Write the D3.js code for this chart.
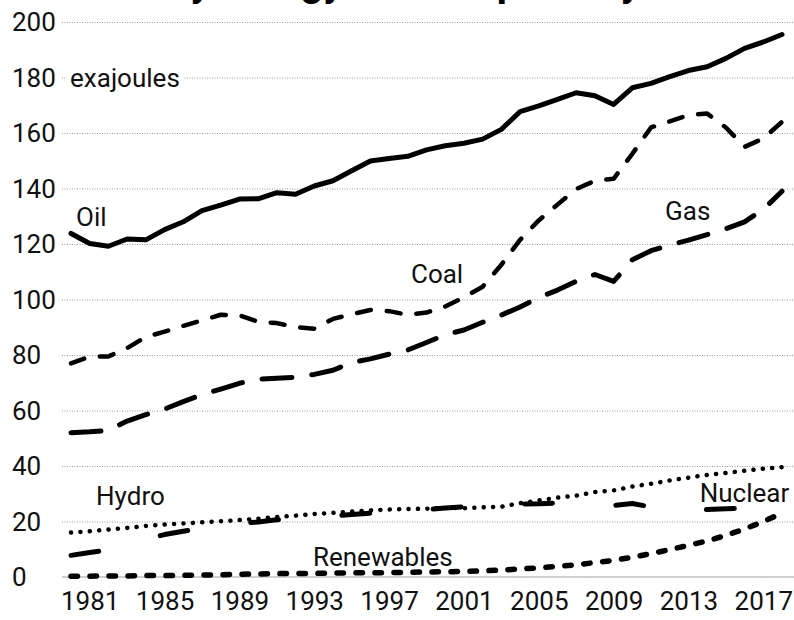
<!DOCTYPE html>
<html>
<head>
<meta charset="utf-8">
<script src="https://cdn.jsdelivr.net/npm/d3@7"></script>
<style>
  body { margin: 0; background: #fff; }
  svg { display: block; font-family: Roboto, sans-serif; }
</style>
</head>
<body>
<div id="chart"></div>
<script>
const WIDTH = 794;
const HEIGHT = 620;
const TITLE = 'Primary energy consumption by fuel';
const UNIT = 'exajoules';

const YEARS = [1980, 1981, 1982, 1983, 1984, 1985, 1986, 1987, 1988, 1989,
  1990, 1991, 1992, 1993, 1994, 1995, 1996, 1997, 1998, 1999,
  2000, 2001, 2002, 2003, 2004, 2005, 2006, 2007, 2008, 2009,
  2010, 2011, 2012, 2013, 2014, 2015, 2016, 2017, 2018];
const OIL = [123.8, 120.2, 119.2, 121.8, 121.5, 125.2, 128.0, 132.0, 134.0, 136.2,
  136.3, 138.5, 137.9, 140.9, 142.8, 146.4, 149.9, 150.8, 151.6, 153.9,
  155.4, 156.3, 157.8, 161.3, 167.7, 169.8, 172.1, 174.5, 173.4, 170.3,
  176.3, 177.9, 180.3, 182.5, 183.9, 186.9, 190.5, 192.8, 195.5];
const COAL = [77.0, 79.4, 79.5, 82.5, 86.5, 88.4, 90.5, 92.5, 94.5, 94.3,
  92.0, 91.5, 90.0, 89.5, 93.0, 94.7, 96.2, 95.8, 94.5, 95.3,
  97.5, 100.8, 104.6, 112.5, 121.5, 128.5, 134.2, 139.8, 142.8, 143.5,
  152.5, 162.0, 164.2, 166.5, 167.0, 162.0, 155.0, 158.0, 164.0];
const GAS = [52.0, 52.3, 52.8, 56.2, 58.5, 60.5, 63.2, 65.7, 67.7, 69.8,
  71.3, 71.6, 72.0, 73.0, 74.5, 77.3, 78.6, 80.3, 81.8, 84.5,
  87.3, 89.0, 91.8, 94.4, 97.3, 100.7, 103.4, 106.6, 109.0, 106.5,
  114.3, 117.6, 119.6, 121.4, 123.4, 125.5, 128.0, 132.5, 139.0];
const HYDRO = [16.0, 16.5, 17.1, 17.7, 18.4, 18.9, 19.3, 19.7, 20.1, 20.5,
  21.0, 21.6, 22.1, 22.7, 23.1, 23.6, 24.0, 24.3, 24.5, 24.6,
  24.9, 24.8, 25.1, 25.3, 26.6, 27.6, 28.6, 29.3, 30.6, 31.2,
  32.6, 33.6, 34.8, 35.8, 36.8, 37.5, 38.3, 39.0, 39.6];
const NUCLEAR = [7.8, 8.8, 9.8, 11.5, 13.5, 15.3, 16.5, 17.5, 18.5, 19.3,
  19.8, 20.6, 20.9, 21.5, 22.0, 22.5, 23.0, 23.3, 23.8, 24.3,
  24.9, 25.3, 25.8, 25.8, 26.3, 26.4, 26.7, 26.3, 26.0, 25.8,
  26.5, 25.2, 23.6, 24.0, 24.3, 24.6, 24.8, 25.0, 25.4];
const RENEWABLES = [0.3, 0.3, 0.4, 0.4, 0.5, 0.5, 0.6, 0.7, 0.8, 1.0,
  1.1, 1.2, 1.3, 1.3, 1.4, 1.5, 1.5, 1.6, 1.7, 1.8,
  1.9, 2.0, 2.2, 2.5, 2.9, 3.3, 3.8, 4.4, 5.2, 6.0,
  7.1, 8.4, 9.9, 11.4, 13.0, 15.0, 17.3, 20.0, 23.0];

const Y_TICKS = [0, 20, 40, 60, 80, 100, 120, 140, 160, 180, 200];
const X_TICKS = [1981, 1985, 1989, 1993, 1997, 2001, 2005, 2009, 2013, 2017];

// line styles and where each name sits (in data units)
const SERIES = [
  { name: 'Oil', values: OIL, width: 5, dash: null, label: [1980.27, 126.5] },
  { name: 'Coal', values: COAL, width: 4.5, dash: '14,16', label: [1998.17, 105.9] },
  { name: 'Gas', values: GAS, width: 5, dash: '30,20', label: [2011.75, 128.6] },
  { name: 'Hydro', values: HYDRO, width: 4.5, dash: '0.1,9.3', label: [1981.34, 25.9] },
  { name: 'Nuclear', values: NUCLEAR, width: 5, dash: '28,63.5', label: [2013.6, 27.0] },
  { name: 'Renewables', values: RENEWABLES, width: 5.5, dash: '6.5,12.5', label: [1992.93, 4.0] }
];

const x = d3.scaleLinear().domain([1980, 2018]).range([71, 782]);
const y = d3.scaleLinear().domain([0, 200]).range([577, 22]);

const svg = d3.select('#chart').append('svg')
  .attr('width', WIDTH)
  .attr('height', HEIGHT);

// title sits mostly above the top edge, only descenders show
svg.append('text')
  .attr('x', 394)
  .attr('y', -4)
  .attr('text-anchor', 'middle')
  .attr('font-size', 40)
  .attr('font-weight', 'bold')
  .attr('fill', '#000')
  .text(TITLE);

// gridlines
const yAxis = d3.axisLeft(y)
  .tickValues(Y_TICKS.filter(d => d > 0))
  .tickSize(-(WIDTH - 62))
  .tickFormat('');
svg.append('g')
  .attr('transform', 'translate(62,0)')
  .call(yAxis)
  .call(g => g.select('.domain').remove())
  .call(g => g.selectAll('line')
    .attr('stroke', '#999')
    .attr('stroke-width', 1)
    .attr('stroke-dasharray', '1,1.5'));

svg.append('line')
  .attr('x1', 62)
  .attr('x2', WIDTH)
  .attr('y1', y(0))
  .attr('y2', y(0))
  .attr('stroke', '#d0d0d0')
  .attr('stroke-width', 2);

svg.append('g')
  .selectAll('text')
  .data(Y_TICKS)
  .join('text')
  .attr('x', 12)
  .attr('y', d => y(d))
  .attr('dy', '0.35em')
  .attr('font-size', 26)
  .attr('fill', '#111')
  .text(d => d);

const xAxis = d3.axisBottom(x)
  .tickValues(X_TICKS)
  .tickSize(0)
  .tickPadding(0)
  .tickFormat(d => d);
svg.append('g')
  .attr('transform', 'translate(0,' + 610 + ')')
  .call(xAxis)
  .call(g => g.select('.domain').remove())
  .call(g => g.selectAll('text')
    .attr('dy', 0)
    .attr('font-size', 26)
    .attr('font-family', 'Roboto, sans-serif')
    .attr('fill', '#111'));

// unit label over the 180 gridline
const unit = svg.append('g');
const unitText = unit.append('text')
  .attr('x', x(1979.95))
  .attr('y', y(176.6))
  .attr('font-size', 26)
  .attr('fill', '#111')
  .text(UNIT);
const bb = unitText.node().getBBox();
unit.insert('rect', 'text')
  .attr('x', bb.x - 4)
  .attr('y', bb.y)
  .attr('width', bb.width + 8)
  .attr('height', bb.height)
  .attr('fill', '#fff');

const line = d3.line()
  .x((d, i) => x(YEARS[i]))
  .y(d => y(d));

svg.append('g')
  .selectAll('path')
  .data(SERIES)
  .join('path')
  .attr('d', d => line(d.values))
  .attr('fill', 'none')
  .attr('stroke', '#000')
  .attr('stroke-width', d => d.width)
  .attr('stroke-linecap', 'round')
  .attr('stroke-linejoin', 'round')
  .attr('stroke-dasharray', d => d.dash);

svg.append('g')
  .selectAll('text')
  .data(SERIES)
  .join('text')
  .attr('x', d => x(d.label[0]))
  .attr('y', d => y(d.label[1]))
  .attr('font-size', 26)
  .attr('fill', '#111')
  .text(d => d.name);
</script>
</body>
</html>
